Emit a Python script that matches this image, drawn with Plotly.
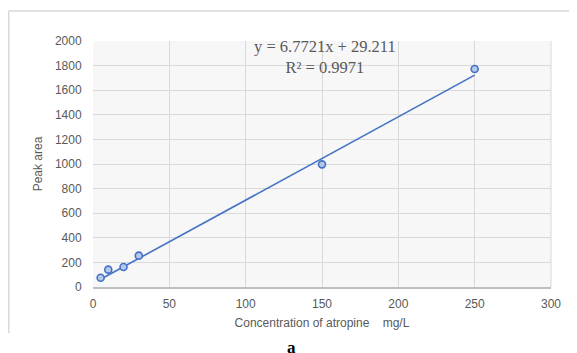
import plotly.graph_objects as go

# Data
concentration = [5, 10, 20, 30, 150, 250]
peak_area = [75, 141, 163, 255, 997, 1772]

# Linear trendline coefficients shown on the chart
slope = 6.7721
intercept = 29.211
r_squared = 0.9971

x_ticks = [0, 50, 100, 150, 200, 250, 300]
y_ticks = [0, 200, 400, 600, 800, 1000, 1200, 1400, 1600, 1800, 2000]

trend_x = [min(concentration), max(concentration)]
trend_y = [slope * v + intercept for v in trend_x]

blue = "#4472C4"
grey_text = "#595959"
grid = "#d9d9d9"

fig = go.Figure()
fig.add_trace(go.Scatter(
    x=trend_x, y=trend_y, mode="lines",
    line=dict(color=blue, width=1.6), hoverinfo="skip", showlegend=False))
fig.add_trace(go.Scatter(
    x=concentration, y=peak_area, mode="markers",
    marker=dict(size=7, color="#b4c9ea", line=dict(color=blue, width=1.6)),
    showlegend=False))

fig.update_layout(
    width=569, height=345,
    margin=dict(l=85, r=26, t=33, b=66),
    paper_bgcolor="white",
    plot_bgcolor="#f7f7f7",
    font=dict(family="Liberation Sans, Arial, sans-serif", size=12, color=grey_text),
    xaxis=dict(
        range=[0, 300], tickvals=x_ticks, ticktext=[str(v) for v in x_ticks],
        showgrid=True, gridcolor=grid, gridwidth=1,
        showline=True, linecolor="#bfbfbf", linewidth=1.5, mirror=False,
        zeroline=False, ticks="outside", ticklen=5, tickcolor="rgba(0,0,0,0)",
        tickfont=dict(size=12, color=grey_text),
        title=dict(text="Concentration of atropine \u00a0\u00a0\u00a0mg/L",
                   font=dict(size=12, color=grey_text), standoff=8),
    ),
    yaxis=dict(
        range=[0, 2000], tickvals=y_ticks, ticktext=[str(v) for v in y_ticks],
        showgrid=True, gridcolor=grid, gridwidth=1,
        showline=False, zeroline=False,
        ticks="outside", ticklen=8, tickcolor="rgba(0,0,0,0)",
        tickfont=dict(size=12, color=grey_text),
        title=dict(text="Peak area", font=dict(size=12, color=grey_text), standoff=9),
    ),
    shapes=[
        # outer chart border (top and left edges)
        dict(type="line", xref="paper", yref="paper",
             x0=-0.184, x1=1.06, y0=1.122, y1=1.122,
             line=dict(color="#d9d9d9", width=1.5)),
        dict(type="line", xref="paper", yref="paper",
             x0=-0.184, x1=-0.184, y0=1.122, y1=-0.187,
             line=dict(color="#d9d9d9", width=1.5)),
        # right edge of plot area
        dict(type="line", xref="paper", yref="paper",
             x0=1, x1=1, y0=0, y1=1, line=dict(color=grid, width=1)),
    ],
    annotations=[
        dict(text=f"y = {slope}x + {intercept}<br>R\u00b2 = {r_squared}",
             xref="paper", yref="paper", x=0.507, y=1.0, xanchor="center", yanchor="top",
             yshift=6, showarrow=False, align="center",
             font=dict(family="Liberation Serif, Times New Roman, serif", size=16.5, color=grey_text)),
        dict(text="<b>a</b>", xref="paper", yref="paper", x=0.434, y=-0.244,
             xanchor="center", yanchor="middle", showarrow=False,
             font=dict(family="Liberation Serif, Times New Roman, serif", size=17, color="black")),
    ],
)

fig.write_html("out.html")
